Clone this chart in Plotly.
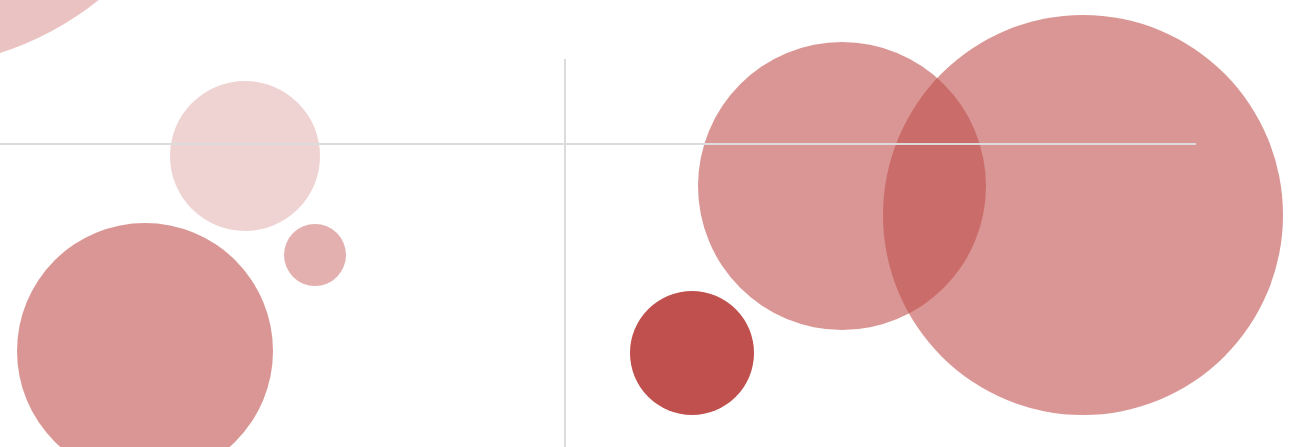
import plotly.graph_objects as go

# Bubble data (arbitrary chart units)
x_vals = [-9.1, 24.5, 31.5, 14.5, 69.2, 84.2, 108.3]
y_vals = [68.2, 29.1, 19.2, 9.6, 9.4, 26.1, 23.2]
sizes = [60.4, 15.0, 6.2, 25.6, 12.4, 28.8, 40.0]
intensity = [0.35, 0.25, 0.45, 0.6, 1.0, 0.6, 0.6]

# Reference (quadrant) lines
ref_x = 56.5
ref_x_span = [-2.0, 38.8]
ref_y = 30.3
ref_y_span = [-2.0, 119.6]

X_RANGE = [0, 130.3]
Y_RANGE = [0, 44.7]

fig = go.Figure()
fig.add_trace(go.Scatter(
    x=x_vals, y=y_vals, mode="markers",
    marker=dict(size=sizes, sizemode="diameter", sizeref=0.1,
                color="#c0504d", opacity=intensity, line=dict(width=0)),
    hoverinfo="skip", showlegend=False,
))

fig.add_shape(type="line", x0=ref_x, x1=ref_x, y0=ref_x_span[0], y1=ref_x_span[1],
              xref="x", yref="y", layer="above",
              line=dict(color="#dcdcdc", width=2))
fig.add_shape(type="line", x0=ref_y_span[0], x1=ref_y_span[1], y0=ref_y, y1=ref_y,
              xref="x", yref="y", layer="above",
              line=dict(color="#dcdcdc", width=2))

fig.update_layout(
    width=1303, height=447, autosize=False,
    margin=dict(l=0, r=0, t=0, b=0),
    paper_bgcolor="white", plot_bgcolor="white",
    xaxis=dict(range=X_RANGE, visible=False, showgrid=False, zeroline=False),
    yaxis=dict(range=Y_RANGE, visible=False, showgrid=False, zeroline=False),
)

fig.write_html("out.html",
               config={"displayModeBar": False, "staticPlot": True},
               post_script="document.body.style.margin='0';document.body.style.overflow='hidden';")
